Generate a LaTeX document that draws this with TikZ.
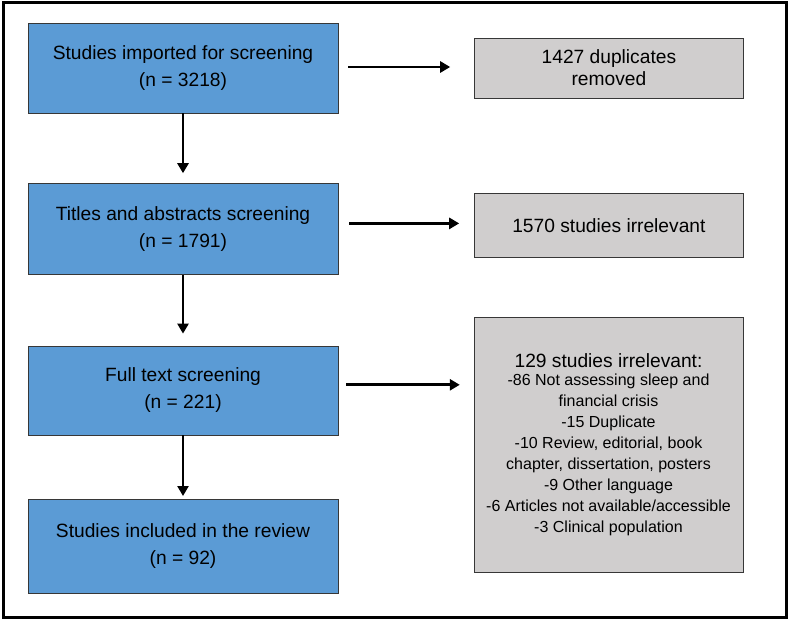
\documentclass[tikz,border=0pt]{standalone}
\usepackage{fontspec}
\setmainfont{Liberation Sans}
\usetikzlibrary{arrows.meta, positioning}
\definecolor{stepblue}{RGB}{91,155,213}
\definecolor{exclgray}{RGB}{208,206,206}
\definecolor{edgegray}{RGB}{55,55,55}
\tikzstyle{stage} = [rectangle, minimum width=310pt, minimum height=90pt, text centered, align=center, draw=edgegray, fill=stepblue, font=\fontsize{19.2}{27}\selectfont]
\tikzstyle{excluded} = [rectangle, minimum width=269pt, minimum height=60pt, text centered, align=center, draw=edgegray, fill=exclgray, font=\fontsize{19.2}{22}\selectfont]
\tikzstyle{arrow} = [line width=2.8pt, -{Triangle[length=10pt,width=11pt]}]

\begin{document}
\begin{tikzpicture}[x=1pt, y=-1pt, node distance=70pt and 136pt]
\useasboundingbox (0,0) rectangle (789,620);
\draw [line width=3pt] (3,3) rectangle (786,617);

% Nodes
\node (imported) [stage] at (183,68) {Studies imported for screening\\(n = 3218)};
\node (titles) [stage, minimum height=91pt, below=70pt of imported] {Titles and abstracts screening\\(n = 1791)};
\node (fulltext) [stage, minimum height=89pt, below=71pt of titles] {Full text screening\\(n = 221)};
\node (included) [stage, minimum height=94pt, below=64pt of fulltext] {Studies included in the review\\(n = 92)};
\node (dups) [excluded, right=136pt of imported] {1427 duplicates\\removed};
\node (irrel) [excluded, minimum height=64pt, right=136pt of titles, yshift=3.5pt] {1570 studies irrelevant};
\node (reasons) [excluded, minimum height=255pt, font=\fontsize{16}{21}\selectfont] at (608.5,444.5) {{\fontsize{19.2}{22}\selectfont 129 studies irrelevant:}\\[-3pt]-86 Not assessing sleep and\\financial crisis\\-15 Duplicate\\-10 Review, editorial, book\\chapter, dissertation, posters\\-9 Other language\\-6 Articles not available/accessible\\-3 Clinical population};

% Arrows
\draw [arrow, shorten >=10pt] (imported) -- (titles);
\draw [arrow, shorten >=12pt] (titles) -- (fulltext);
\draw [arrow, shorten >=3pt] (fulltext) -- (included);
\draw [arrow] ([xshift=10pt,yshift=1pt]imported.east) -- ([xshift=-24pt,yshift=1pt]imported.east -| dups.west);
\draw [arrow] ([xshift=11pt,yshift=5.5pt]titles.east) -- ([xshift=-15pt,yshift=5.5pt]titles.east -| irrel.west);
\draw [arrow] ([xshift=8pt,yshift=5.5pt]fulltext.east) -- ([xshift=-14pt,yshift=5.5pt]fulltext.east -| reasons.west);

\end{tikzpicture}
\end{document}
